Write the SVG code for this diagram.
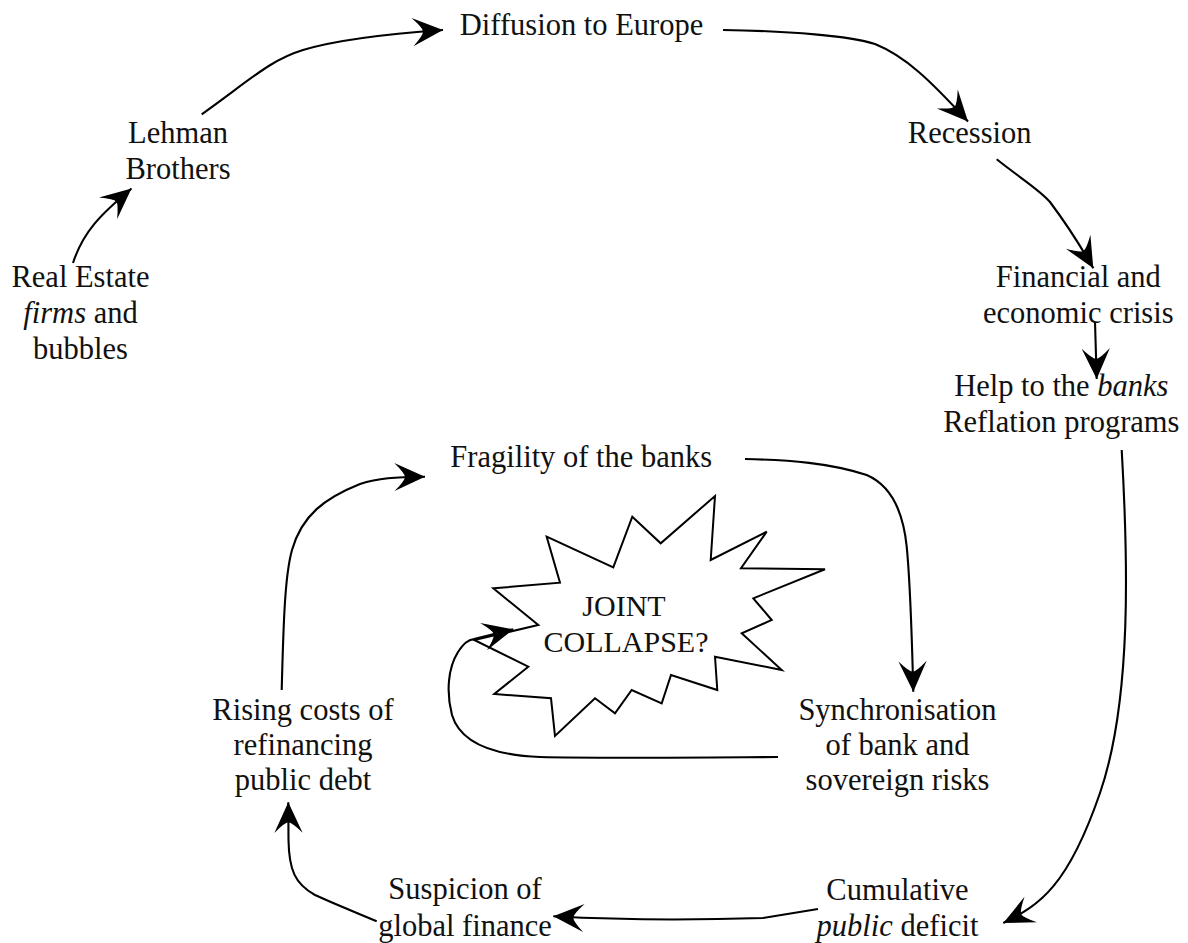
<svg xmlns="http://www.w3.org/2000/svg" width="1188" height="943" viewBox="0 0 1188 943" font-family="'Liberation Serif', 'Times New Roman', serif">
<style>
text{font-family:"Liberation Serif","Times New Roman",serif;font-size:30.5px;fill:#111;text-anchor:middle}
.it{font-style:italic}
.star text{font-size:30px}
.conn path{fill:none;stroke:#000;stroke-width:2.1;marker-end:url(#ah)}
.star polygon{fill:#fff;stroke:#000;stroke-width:2;stroke-linejoin:miter}
</style>
<defs>
<marker id="ah" markerUnits="userSpaceOnUse" markerWidth="40" markerHeight="40" viewBox="-30 -15 34 30" refX="0" refY="0" orient="auto">
<path d="M0,0 L-26,-12 Q-17,-3 -17,0 Q-17,3 -26,12 Z" fill="#000"/>
</marker>
</defs>
<g id="star" class="star">
<polygon points="546.7,536.7 613.3,567.3 632.3,516.7 660.7,543.3 715,496 710.7,560 766.7,531.7 741,568.3 825,569.3 753.3,598.3 771.7,620 741.7,633.3 781.7,670 715,656.7 717.3,690 671,675 661.7,703.3 631.7,690 615,713.3 595,698.3 555,736 551,698.3 494.3,694 528.3,666.7 474.3,640 538.3,625 493.3,588.3 560,582.7"/>
<text x="624" y="616">JOINT</text>
<text x="626" y="652">COLLAPSE?</text>
</g>
<g id="connectors" class="conn">
<path d="M73,263 C83,232 100,215 131.5,188.5"/>
<path d="M201.7,114.3 C250,80 270,60 303,50 C340,38.8 400,33 443,30"/>
<path d="M723,30 C790,31 850,36 875,44 C905,56 930,80 968,121.5"/>
<path d="M996.7,159.3 C1020,178 1040,190 1050,202 C1065,222 1080,245 1093.3,268.3"/>
<path d="M1095,322 L1096.7,379"/>
<path d="M1121.7,450 C1128,560 1132,700 1100,793 S1040,905 1003.3,923"/>
<path d="M818,909 L763,918 C700,920 620,920 553.3,916.3"/>
<path d="M376.7,921.3 C350,910 330,902 315,895 C295,884 289,870 288.5,840 L288.3,802.3"/>
<path d="M281.7,690 C283.5,620 285,575 292,550 C302,515 325,498 360,484 C378,478 395,477 425,476.7"/>
<path d="M745,459 C790,460 830,463 866.7,475 C890,485 903,510 906.7,546.7 C910,580 912,640 913.3,691.7"/>
<path d="M778,757 C700,757.5 600,758.5 540,757 C490,755 460,742 452,715 C446,692 448,668 458,652 C464,643 468,640 474,639 L513.3,629.3"/>
</g>
<g id="real-estate"><text x="80.5" y="286.5">Real Estate</text><text x="80.5" y="322.5"><tspan class="it">firms</tspan> and</text><text x="80.5" y="358.5">bubbles</text></g>
<g id="lehman"><text x="178" y="143.3">Lehman</text><text x="178" y="178.5">Brothers</text></g>
<g id="diffusion"><text x="581.5" y="35">Diffusion to Europe</text></g>
<g id="recession"><text x="969.7" y="143.3">Recession</text></g>
<g id="crisis"><text x="1078.3" y="286.7">Financial and</text><text x="1078.3" y="323">economic crisis</text></g>
<g id="help"><text x="1061.3" y="396">Help to the <tspan class="it">banks</tspan></text><text x="1061.3" y="432">Reflation programs</text></g>
<g id="fragility"><text x="581.2" y="466.7">Fragility of the banks</text></g>
<g id="synchronisation"><text x="897.5" y="720">Synchronisation</text><text x="897.5" y="755">of bank and</text><text x="897.5" y="790">sovereign risks</text></g>
<g id="rising"><text x="303" y="720">Rising costs of</text><text x="303" y="755">refinancing</text><text x="303" y="790">public debt</text></g>
<g id="suspicion"><text x="465" y="898.5">Suspicion of</text><text x="465" y="936">global finance</text></g>
<g id="cumulative"><text x="897.5" y="900">Cumulative</text><text x="897.5" y="936"><tspan class="it">public</tspan> deficit</text></g>
</svg>
